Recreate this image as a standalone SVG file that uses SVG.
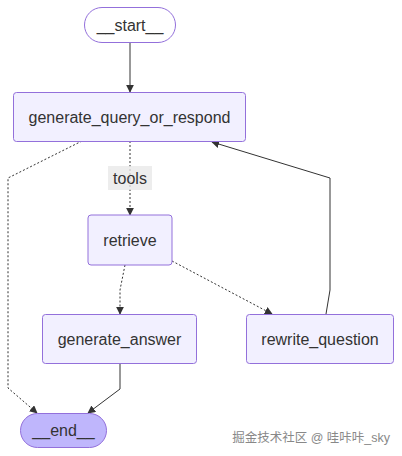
<svg xmlns="http://www.w3.org/2000/svg" width="402" height="456" viewBox="0 0 402 456">
<defs>
<marker id="arr" viewBox="0 0 10 10" refX="9" refY="5" markerWidth="8" markerHeight="8" markerUnits="userSpaceOnUse" orient="auto">
<path d="M0,0 L10,5 L0,10 z" fill="#333"/>
</marker>
<style>
.node rect{fill:#f2f0ff;stroke:#9370DB;stroke-width:1}
.node text{font-family:"Liberation Sans",Arial,sans-serif;font-size:16px;fill:#333;text-anchor:middle;dominant-baseline:central}
.edge{fill:none;stroke:#333;stroke-width:1;marker-end:url(#arr)}
.dot{stroke-dasharray:2,2}
</style>
</defs>
<rect width="402" height="456" fill="#fff"/>
<g id="connectors">
<path class="edge" d="M130,42 L130,92"/>
<path class="edge dot" d="M82,141 L8,178 L8,388 L37,413"/>
<path class="edge dot" d="M130,141 L130,215"/>
<path class="edge dot" d="M125,265 L120,290 L120,314"/>
<path class="edge dot" d="M172,261 L272,314"/>
<path class="edge" d="M326,314 L330,290 L330,178 L212,142"/>
<path class="edge" d="M120,364 L120,389 L88,413"/>
</g>
<g id="edge-label-tools">
<rect x="108" y="166" width="44" height="24" fill="#e8e8e8" opacity="0.8"/>
<text x="130" y="178" font-family="Liberation Sans,Arial,sans-serif" font-size="16" fill="#333" text-anchor="middle" dominant-baseline="central">tools</text>
</g>
<g id="start" class="node">
<rect x="84.5" y="7.5" width="91" height="35" rx="17.5" style="fill:#fff"/>
<text x="130" y="25">__start__</text>
</g>
<g id="generate_query_or_respond" class="node">
<rect x="13.5" y="92.5" width="232" height="49" rx="3"/>
<text x="129.5" y="117">generate_query_or_respond</text>
</g>
<g id="retrieve" class="node">
<rect x="88" y="215" width="84" height="50" rx="3"/>
<text x="130" y="240">retrieve</text>
</g>
<g id="generate_answer" class="node">
<rect x="42.5" y="314.5" width="154" height="49" rx="3"/>
<text x="119.5" y="339">generate_answer</text>
</g>
<g id="rewrite_question" class="node">
<rect x="246.5" y="314.5" width="147" height="49" rx="3"/>
<text x="320" y="339">rewrite_question</text>
</g>
<g id="end" class="node">
<rect x="20.5" y="413.5" width="86" height="34" rx="17" style="fill:#bfb6fc"/>
<text x="63.5" y="430">__end__</text>
</g>
<text x="390" y="442" font-family="'Liberation Sans','Noto Sans CJK SC',sans-serif" font-size="12.5" fill="#888" text-anchor="end">掘金技术社区 @ 哇咔咔_sky</text>
</svg>
